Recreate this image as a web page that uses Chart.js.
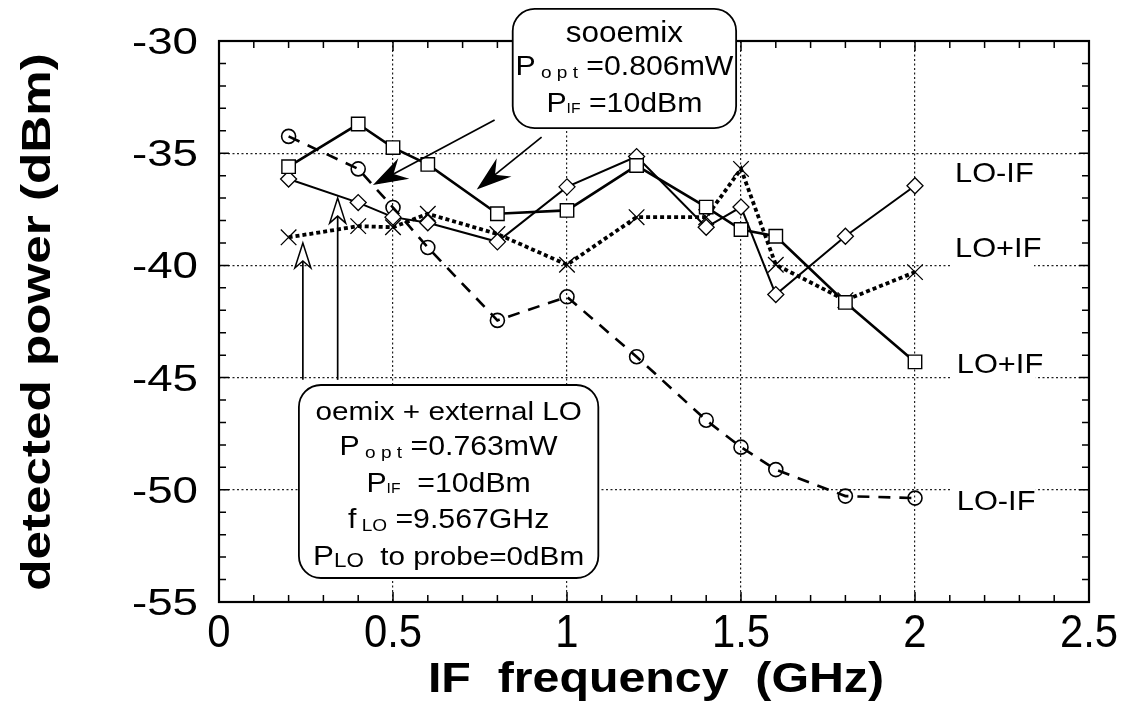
<!DOCTYPE html>
<html>
<head>
<meta charset="utf-8">
<script src="https://cdn.jsdelivr.net/npm/chart.js@4.4.1/dist/chart.umd.min.js"></script>
<style>
html,body{margin:0;padding:0;background:#fff;}
#c{display:block;}
</style>
</head>
<body>
<canvas id="c" width="1123" height="704"></canvas>
<script>
// ---------------- data ----------------
const ifFrequency = [0.2, 0.4, 0.5, 0.6, 0.8, 1.0, 1.2, 1.4, 1.5, 1.6, 1.8, 2.0];
const sooemixLOplusIF  = [-35.6, -33.7, -34.75, -35.5, -37.7, -37.55, -35.55, -37.4, -38.4, -38.7, -41.65, -44.3];
const sooemixLOminusIF = [-36.15, -37.2, -37.85, -38.1, -38.95, -36.5, -35.15, -38.3, -37.4, -41.3, -38.7, -36.45];
const extLOplusIF      = [-38.75, -38.25, -38.3, -37.7, -38.6, -39.97, -37.85, -37.85, -35.7, -39.97, -41.55, -40.3];
const extLOminusIF     = [-34.25, -35.7, -37.42, -39.2, -42.45, -41.4, -44.07, -46.9, -48.1, -49.1, -50.28, -50.37];

const xTickLabels = ['0', '0.5', '1', '1.5', '2', '2.5'];
const yTickLabels = ['-30', '-35', '-40', '-45', '-50', '-55'];
const xAxisTitle = 'IF  frequency  (GHz)';
const yAxisTitle = 'detected power (dBm)';

const curveLabels = [
  {text: 'LO-IF', x: 2.115, y: -35.84},
  {text: 'LO+IF', x: 2.115, y: -39.18},
  {text: 'LO+IF', x: 2.12,  y: -44.35},
  {text: 'LO-IF', x: 2.12,  y: -50.45}
];

const FONT = '"Liberation Sans", Arial, Helvetica, sans-serif';

// annotation boxes (data coordinates)
const boxSooemix = {x0: 0.844, x1: 1.486, yTop: -28.57, yBot: -33.88,
  lines: [
    {off: 33,  segs: [{t: 'sooemix', s: 30}], sx: 1.05},
    {off: 66,  segs: [{t: 'P', s: 27}, {t: ' o p t', s: 17, dy: 3}, {t: ' =0.806mW', s: 27}]},
    {off: 103, segs: [{t: 'P', s: 27}, {t: 'IF', s: 14, dy: 1}, {t: ' =10dBm', s: 27}]}
  ]};
const boxExternal = {x0: 0.2296, x1: 1.09, yTop: -45.33, yBot: -53.93,
  lines: [
    {off: 35,  segs: [{t: 'oemix + external LO', s: 26.5}]},
    {off: 70,  segs: [{t: 'P', s: 27}, {t: ' o p t', s: 17, dy: 3}, {t: ' =0.763mW', s: 27}]},
    {off: 107, segs: [{t: 'P', s: 27}, {t: 'IF', s: 14, dy: 1}, {t: '  =10dBm', s: 27}]},
    {off: 143, segs: [{t: 'f', s: 27}, {t: ' LO', s: 17, dy: 3}, {t: ' =9.567GHz', s: 27}]},
    {off: 180, segs: [{t: 'P', s: 28}, {t: 'LO', s: 20, dy: 2}, {t: '  to probe=0dBm', s: 26.5}]}
  ]};
// arrows (data coordinates)
const filledArrows = [
  {from: [0.792, -33.52], to: [0.448, -36.37]},
  {from: [0.927, -34.28], to: [0.746, -36.55]}
];
const openArrows = [
  {from: [0.241, -45.1], to: [0.241, -39.0]},
  {from: [0.341, -45.1], to: [0.341, -37.0]}
];

const pts = ys => ifFrequency.map((f, i) => ({x: f, y: ys[i]}));

// ---------------- helpers ----------------
function richText(ctx, segs, cx, baseY, sx) {
  let w = 0;
  segs.forEach(sg => { ctx.font = sg.s + 'px ' + FONT; w += ctx.measureText(sg.t).width; });
  ctx.save();
  ctx.translate(cx, baseY);
  ctx.scale(sx, 1);
  let x = -w / 2;
  ctx.textAlign = 'left';
  ctx.textBaseline = 'alphabetic';
  segs.forEach(sg => {
    ctx.font = sg.s + 'px ' + FONT;
    ctx.fillText(sg.t, x, sg.dy || 0);
    x += ctx.measureText(sg.t).width;
  });
  ctx.restore();
}
function stretchedText(ctx, txt, x, y, sx, font, align, baseline, rot) {
  ctx.save();
  ctx.translate(x, y);
  if (rot) ctx.rotate(rot);
  ctx.scale(sx, 1);
  ctx.font = font;
  ctx.textAlign = align;
  ctx.textBaseline = baseline;
  ctx.fillText(txt, 0, 0);
  ctx.restore();
}
function arrow(ctx, x1, y1, x2, y2, len, hw, notch, filled) {
  const a = Math.atan2(y2 - y1, x2 - x1);
  const ux = Math.cos(a), uy = Math.sin(a), nx = -uy, ny = ux;
  const bx = x2 - len * ux, by = y2 - len * uy;
  const mx = x2 - (len - notch) * ux, my = y2 - (len - notch) * uy;
  ctx.beginPath();
  ctx.moveTo(x1, y1);
  ctx.lineTo(mx, my);
  ctx.lineWidth = 1.7;
  ctx.strokeStyle = '#000';
  ctx.stroke();
  ctx.beginPath();
  ctx.moveTo(x2, y2);
  ctx.lineTo(bx + hw * nx, by + hw * ny);
  ctx.lineTo(mx, my);
  ctx.lineTo(bx - hw * nx, by - hw * ny);
  ctx.closePath();
  ctx.fillStyle = filled ? '#000' : '#fff';
  ctx.fill();
  ctx.lineWidth = 1.5;
  ctx.stroke();
}

// ---------------- decoration plugin ----------------
const decor = {
  id: 'decor',
  afterDraw(chart) {
    const ctx = chart.ctx;
    const xs = chart.scales.x, ys = chart.scales.y;
    const ca = chart.chartArea;
    ctx.save();
    ctx.fillStyle = '#000';
    ctx.strokeStyle = '#000';
    // minor/major ticks, inward on all four sides
    ctx.lineWidth = 1.5;
    for (let i = 0; i <= 25; i++) {
      const v = i / 10;
      const px = xs.getPixelForValue(v);
      const L = (i % 5 === 0) ? 10 : 7;
      ctx.beginPath();
      ctx.moveTo(px, ca.bottom); ctx.lineTo(px, ca.bottom - L);
      ctx.moveTo(px, ca.top); ctx.lineTo(px, ca.top + L);
      ctx.stroke();
    }
    for (let i = 0; i <= 25; i++) {
      const v = -55 + i;
      const py = ys.getPixelForValue(v);
      const L = (i % 5 === 0) ? 10 : 7;
      ctx.beginPath();
      ctx.moveTo(ca.left, py); ctx.lineTo(ca.left + L, py);
      ctx.moveTo(ca.right, py); ctx.lineTo(ca.right - L, py);
      ctx.stroke();
    }
    // frame
    ctx.lineWidth = 2.2;
    ctx.strokeRect(ca.left, ca.top, ca.right - ca.left, ca.bottom - ca.top);

    // curve labels with white backgrounds
    curveLabels.forEach(lb => {
      const px = xs.getPixelForValue(lb.x), py = ys.getPixelForValue(lb.y);
      ctx.fillStyle = '#fff';
      ctx.fillRect(px - 5, py - 16, 84, 36);
      ctx.fillStyle = '#000';
      stretchedText(ctx, lb.text, px, py + 10, 1.1, '28px ' + FONT, 'left', 'alphabetic');
    });

    // annotation boxes
    [boxSooemix, boxExternal].forEach(b => {
      const l = xs.getPixelForValue(b.x0), r = xs.getPixelForValue(b.x1);
      const t = ys.getPixelForValue(b.yTop), bt = ys.getPixelForValue(b.yBot);
      ctx.beginPath();
      ctx.roundRect(l, t, r - l, bt - t, 22);
      ctx.fillStyle = '#fff';
      ctx.fill();
      ctx.lineWidth = 1.8;
      ctx.strokeStyle = '#000';
      ctx.stroke();
      ctx.fillStyle = '#000';
      b.lines.forEach(ln => richText(ctx, ln.segs, (l + r) / 2, t + ln.off, ln.sx || 1.12));
    });

    // arrows
    filledArrows.forEach(a => arrow(ctx,
      xs.getPixelForValue(a.from[0]), ys.getPixelForValue(a.from[1]),
      xs.getPixelForValue(a.to[0]), ys.getPixelForValue(a.to[1]), 30, 10, 10, true));
    openArrows.forEach(a => arrow(ctx,
      xs.getPixelForValue(a.from[0]), ys.getPixelForValue(a.from[1]),
      xs.getPixelForValue(a.to[0]), ys.getPixelForValue(a.to[1]), 25, 8, 7, false));

    // tick labels
    ctx.fillStyle = '#000';
    xTickLabels.forEach(lb => {
      const px = xs.getPixelForValue(parseFloat(lb));
      stretchedText(ctx, lb, px, ca.bottom + 45, 0.89, '47px ' + FONT, 'center', 'alphabetic');
    });
    yTickLabels.forEach(lb => {
      const py = ys.getPixelForValue(parseFloat(lb));
      stretchedText(ctx, lb, ca.left - 21, py + 13, 1.27, '36px ' + FONT, 'right', 'alphabetic');
    });
    // axis titles
    stretchedText(ctx, xAxisTitle, (ca.left + ca.right) / 2 + 2, 692, 1.15, 'bold 42px ' + FONT, 'center', 'alphabetic');
    stretchedText(ctx, yAxisTitle, 50, 322, 1.28, 'bold 40px ' + FONT, 'center', 'alphabetic', -Math.PI / 2);
    ctx.restore();
  }
};

// ---------------- chart ----------------
new Chart(document.getElementById('c'), {
  type: 'scatter',
  data: {
    datasets: [
      {label: 'sooemix LO+IF', data: pts(sooemixLOplusIF), showLine: true,
       borderColor: '#000', borderWidth: 2.6, pointStyle: 'rect', pointRadius: 9.5,
       pointBorderWidth: 1.4, pointBorderColor: '#000', pointBackgroundColor: '#fff'},
      {label: 'sooemix LO-IF', data: pts(sooemixLOminusIF), showLine: true,
       borderColor: '#000', borderWidth: 2, pointStyle: 'rectRot', pointRadius: 8,
       pointBorderWidth: 1.3, pointBorderColor: '#000', pointBackgroundColor: '#fff'},
      {label: 'oemix + external LO, LO+IF', data: pts(extLOplusIF), showLine: true,
       borderColor: '#000', borderWidth: 3.8, borderDash: [4, 3], pointStyle: 'crossRot', pointRadius: 11,
       pointBorderWidth: 1.3, pointBorderColor: '#000', pointBackgroundColor: '#000'},
      {label: 'oemix + external LO, LO-IF', data: pts(extLOminusIF), showLine: true,
       borderColor: '#000', borderWidth: 2.6, borderDash: [12, 9], pointStyle: 'circle', pointRadius: 7,
       pointBorderWidth: 1.6, pointBorderColor: '#000', pointBackgroundColor: 'rgba(0,0,0,0)'}
    ]
  },
  options: {
    responsive: false,
    animation: false,
    devicePixelRatio: 1,
    layout: {padding: {top: 41, right: 34, left: 0, bottom: 0}},
    plugins: {legend: {display: false}, tooltip: {enabled: false}},
    elements: {line: {tension: 0}},
    scales: {
      x: {type: 'linear', min: 0, max: 2.5,
          ticks: {display: false, stepSize: 0.5},
          grid: {color: '#222', lineWidth: 1.2, drawTicks: false},
          border: {display: false, dash: [2, 2.5]},
          afterFit(s) { s.height = 102; }},
      y: {type: 'linear', min: -55, max: -30,
          ticks: {display: false, stepSize: 5},
          grid: {color: '#222', lineWidth: 1.2, drawTicks: false},
          border: {display: false, dash: [2, 2.5]},
          afterFit(s) { s.width = 219; }}
    }
  },
  plugins: [decor]
});
</script>
</body>
</html>
